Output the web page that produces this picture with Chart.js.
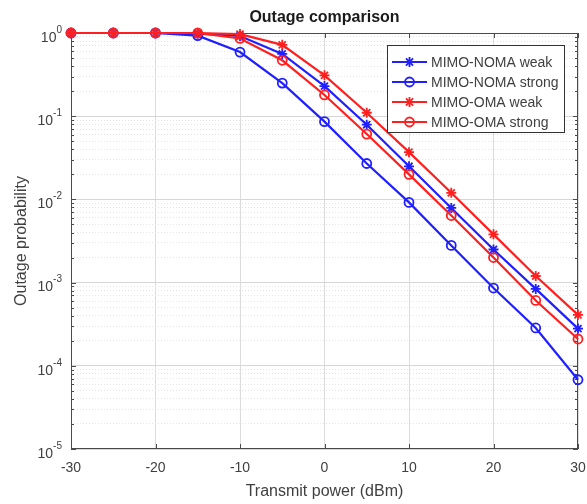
<!DOCTYPE html>
<html>
<head>
<meta charset="utf-8">
<script src="https://cdn.jsdelivr.net/npm/chart.js@4.4.1/dist/chart.umd.min.js"></script>
<style>
html, body { margin: 0; padding: 0; background: #fff; }
</style>
</head>
<body>
<canvas id="chart" width="587" height="504"></canvas>
<script>
// data
var power = [-30, -25, -20, -15, -10, -5, 0, 5, 10, 15, 20, 25, 30];
var nomaWeak   = [1, 1, 1, 0.98, 0.92, 0.56, 0.23, 0.079, 0.025, 0.0079, 0.0025, 0.00084, 0.00028];
var nomaStrong = [1, 1, 1, 0.93, 0.59, 0.25, 0.086, 0.027, 0.0092, 0.0028, 0.00086, 0.000285, 0.000068];
var omaWeak    = [1, 1, 1, 1, 0.97, 0.72, 0.31, 0.11, 0.037, 0.012, 0.0038, 0.0012, 0.00041];
var omaStrong  = [1, 1, 1, 1, 0.86, 0.47, 0.18, 0.061, 0.020, 0.0064, 0.0020, 0.00061, 0.00021];
var seriesNames = ['MIMO-NOMA weak', 'MIMO-NOMA strong', 'MIMO-OMA weak', 'MIMO-OMA strong'];
var yExponents = [0, -1, -2, -3, -4, -5];
var titleText = 'Outage comparison';

var BLUE = '#1f1fff', RED = '#ff1f1f', TXT = '#404040';
var FONT = '"Liberation Sans", Arial, sans-serif';

function pts(arr) {
	return arr.map(function(v, i) { return {x: power[i], y: v}; });
}
function ds(name, arr, color, style, ord) {
	return {
		label: name, data: pts(arr), order: ord,
		borderColor: color, backgroundColor: 'rgba(0,0,0,0)',
		borderWidth: 2.2, pointStyle: style,
		pointRadius: style == 'star' ? 5 : 4.5,
		pointBorderWidth: 1.8, pointBorderColor: color,
		pointBackgroundColor: 'rgba(0,0,0,0)',
		tension: 0, clip: false
	};
}
function isPow10(v) {
	var l = Math.log10(v);
	return Math.abs(l - Math.round(l)) < 1e-6;
}

// draws markers the same way for the legend
function marker(ctx, style, x, y, r, color) {
	ctx.strokeStyle = color;
	ctx.lineWidth = 1.8;
	ctx.beginPath();
	if (style == 'circle') {
		ctx.arc(x, y, r, 0, Math.PI * 2);
	} else {
		for (var k = 0; k < 4; k++) {
			var ang = k * Math.PI / 4;
			ctx.moveTo(x - r * Math.cos(ang), y - r * Math.sin(ang));
			ctx.lineTo(x + r * Math.cos(ang), y + r * Math.sin(ang));
		}
	}
	ctx.stroke();
}

var decor = {
	id: 'decor',
	beforeDatasetsDraw: function(chart) {
		var ctx = chart.ctx, a = chart.chartArea, xs = chart.scales.x, ys = chart.scales.y;
		ctx.save();
		// box
		ctx.strokeStyle = '#4a4a4a';
		ctx.lineWidth = 1;
		ctx.strokeRect(Math.round(a.left) + 0.5, Math.round(a.top) + 0.5, Math.round(a.right - a.left) - 1, Math.round(a.bottom - a.top) - 1);
		// inward ticks
		ctx.beginPath();
		ys.ticks.forEach(function(t) {
			var y = Math.round(ys.getPixelForValue(t.value)) + 0.5;
			var len = isPow10(t.value) ? 5 : 3;
			ctx.moveTo(a.left, y); ctx.lineTo(a.left + len, y);
			ctx.moveTo(a.right, y); ctx.lineTo(a.right - len, y);
		});
		xs.ticks.forEach(function(t) {
			var x = Math.round(xs.getPixelForValue(t.value)) + 0.5;
			ctx.moveTo(x, a.bottom); ctx.lineTo(x, a.bottom - 5);
			ctx.moveTo(x, a.top); ctx.lineTo(x, a.top + 5);
		});
		ctx.stroke();
		// y tick labels 10^n
		ctx.fillStyle = TXT;
		ctx.textBaseline = 'middle';
		ctx.textAlign = 'left';
		yExponents.forEach(function(e) {
			var y = ys.getPixelForValue(Math.pow(10, e));
			var ex = String(e);
			ctx.font = '10px ' + FONT;
			var ew = ctx.measureText(ex).width;
			ctx.font = '14px ' + FONT;
			var bw = ctx.measureText('10').width;
			var right = a.left - 9;
			ctx.fillText('10', right - ew - bw, y + 5);
			ctx.font = '10px ' + FONT;
			ctx.fillText(ex, right - ew, y - 3);
		});
		ctx.restore();
	},
	afterDraw: function(chart) {
		var ctx = chart.ctx, a = chart.chartArea;
		ctx.save();
		// title
		ctx.fillStyle = '#1a1a1a';
		ctx.font = 'bold 16px ' + FONT;
		ctx.textAlign = 'center';
		ctx.textBaseline = 'middle';
		ctx.fillText(titleText, (a.left + a.right) / 2, 18);
		// legend box
		var bx = 387.5, by = 45.5, bw = 177, bh = 87;
		ctx.fillStyle = '#fff';
		ctx.fillRect(bx, by, bw, bh);
		ctx.strokeStyle = '#333';
		ctx.lineWidth = 1;
		ctx.strokeRect(bx, by, bw, bh);
		ctx.font = '14px ' + FONT;
		ctx.textAlign = 'left';
		var sets = chart.data.datasets;
		sets.forEach(function(d, i) {
			var y = 62 + i * 20;
			ctx.strokeStyle = d.borderColor;
			ctx.lineWidth = 2.2;
			ctx.beginPath();
			ctx.moveTo(392, y); ctx.lineTo(427, y);
			ctx.stroke();
			marker(ctx, d.pointStyle, 409.5, y, d.pointRadius, d.borderColor);
			ctx.fillStyle = TXT;
			ctx.fillText(seriesNames[i], 431, y + 1);
		});
		ctx.restore();
	}
};

new Chart(document.getElementById('chart'), {
	type: 'line',
	data: {
		datasets: [
			ds(seriesNames[0], nomaWeak, BLUE, 'star', 3),
			ds(seriesNames[1], nomaStrong, BLUE, 'circle', 2),
			ds(seriesNames[2], omaWeak, RED, 'star', 1),
			ds(seriesNames[3], omaStrong, RED, 'circle', 0)
		]
	},
	options: {
		responsive: false,
		animation: false,
		events: [],
		layout: { padding: { left: 0, top: 33, right: 9, bottom: 0 } },
		plugins: { legend: { display: false }, title: { display: false }, tooltip: { enabled: false } },
		scales: {
			x: {
				type: 'linear', min: -30, max: 30,
				ticks: { stepSize: 10, color: TXT, font: { size: 14, family: FONT }, padding: 11, maxRotation: 0 },
				grid: { color: '#dcdcdc', drawTicks: false, lineWidth: 1 },
				border: { display: false },
				title: { display: true, text: 'Transmit power (dBm)', color: TXT, font: { size: 16, family: FONT }, padding: { top: 2, bottom: 3 } },
				afterFit: function(s) { s.height = 55; s.paddingLeft = 0; s.paddingRight = 0; }
			},
			y: {
				type: 'logarithmic', min: 1e-5, max: 1,
				afterBuildTicks: function(s) {
					var t = [];
					for (var e = -5; e <= 0; e++) {
						for (var m = 1; m <= 9; m++) {
							var v = m * Math.pow(10, e);
							if (v <= 1.0000001) t.push({value: v});
						}
					}
					s.ticks = t;
				},
				ticks: { display: false },
				grid: {
					drawTicks: false, lineWidth: 1,
					color: function(c) { return c.tick && isPow10(c.tick.value) ? '#d6d6d6' : '#e4e4e4'; }
				},
				border: {
					display: false,
					dash: function(c) { return c.tick && isPow10(c.tick.value) ? [] : [1, 2]; }
				},
				title: { display: true, text: 'Outage probability', color: TXT, font: { size: 16, family: FONT }, padding: { top: 12, bottom: 0 } },
				afterFit: function(s) { s.width = 71; }
			}
		}
	},
	plugins: [decor]
});
</script>
</body>
</html>
